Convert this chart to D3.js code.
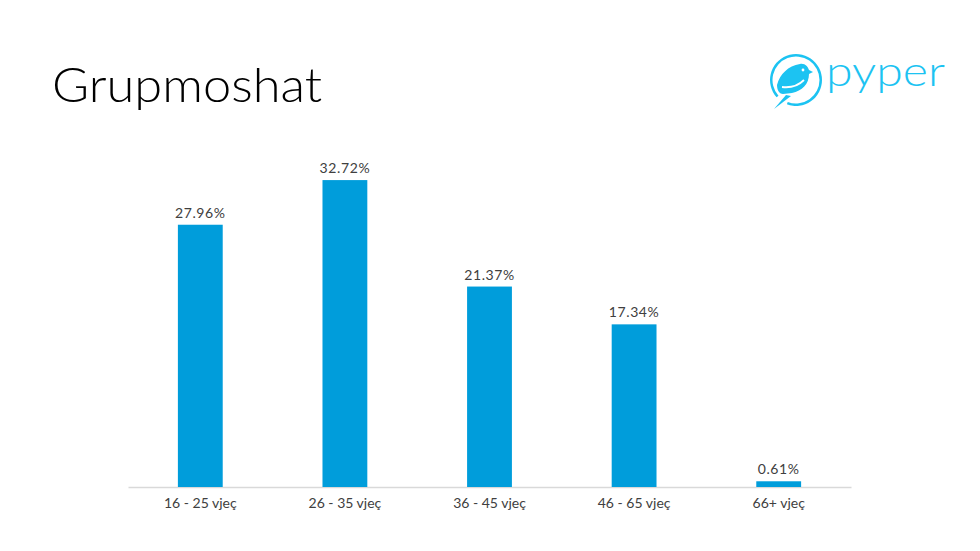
<!DOCTYPE html>
<html>
<head>
<meta charset="utf-8">
<script src="https://cdn.jsdelivr.net/npm/d3@7"></script>
<style>
  body { margin: 0; background: #fff; }
  svg { display: block; font-family: "Lato", "DejaVu Sans", sans-serif; }
</style>
</head>
<body>
<div id="chartArea"></div>
<script>
// data
var categories = ["16 - 25 vjeç", "26 - 35 vjeç", "36 - 45 vjeç", "46 - 65 vjeç", "66+ vjeç"];
var shares = [27.96, 32.72, 21.37, 17.34, 0.61];
var valueLabels = ["27.96%", "32.72%", "21.37%", "17.34%", "0.61%"];
var title = "Grupmoshat";

var width = 980, height = 551;
var margin = { top: 158.7, right: 129, bottom: 64, left: 128 };

var svg = d3.select("#chartArea").append("svg")
    .attr("width", width)
    .attr("height", height);

// title
svg.append("text")
    .attr("x", 52)
    .attr("y", 102)
    .attr("font-size", 47)
    .attr("font-weight", 300)
    .attr("fill", "#000")
    .attr("textLength", 270)
    .attr("lengthAdjust", "spacingAndGlyphs")
    .text(title);

// logo
var blue = "#1cc3f2";
var logo = svg.append("g").attr("transform", "translate(796,80)");
logo.append("path")
    .attr("d", d3.arc().innerRadius(23.5).outerRadius(26)({ startAngle: -2.3, endAngle: 3.5 }))
    .attr("fill", blue);
// bird
logo.append("path")
    .attr("d", "M-19,5 C-16,-6 -8,-14 4,-16 C9,-17 12,-13 13,-10 L17,-8 L13,-6 C13,4 6,11 -4,13 L-13,14 C-16,14 -19,11 -19,5 Z")
    .attr("fill", blue);
logo.append("path")
    .attr("d", "M-14,7 C-6,8 2,6 8,0")
    .attr("fill", "none")
    .attr("stroke", "#fff")
    .attr("stroke-width", 1.8);
logo.append("path")
    .attr("d", "M-10,15 L-5,16 L-22,29 Z")
    .attr("fill", blue);
logo.append("circle").attr("cx", 7).attr("cy", -10).attr("r", 1.4).attr("fill", "#fff");
svg.append("text")
    .attr("x", 826)
    .attr("y", 86)
    .attr("font-size", 41)
    .attr("font-weight", 300)
    .attr("fill", blue)
    .attr("textLength", 119)
    .attr("lengthAdjust", "spacingAndGlyphs")
    .text("pyper");

// scales
var x = d3.scaleBand()
    .domain(categories)
    .range([margin.left, width - margin.right])
    .padding(0);

var y = d3.scaleLinear()
    .domain([0, 35])
    .range([height - margin.bottom, margin.top]);

var barWidth = x.bandwidth() * 0.31;

// axis
var xAxis = d3.axisBottom(x).tickSize(0).tickPadding(11);
var axisG = svg.append("g")
    .attr("class", "axis axis--x")
    .attr("transform", "translate(0," + (height - margin.bottom) + ")")
    .call(xAxis);
axisG.select(".domain").attr("stroke", "#d9d9d9").attr("stroke-width", 1.3);
axisG.selectAll("text")
    .attr("font-size", 14)
    .attr("fill", "#404040")
    .attr("font-family", "Lato, sans-serif");

// bars
svg.selectAll(".bar")
    .data(shares)
    .enter().append("rect")
    .attr("class", "bar")
    .attr("x", function(d, i) { return x(categories[i]) + x.bandwidth() / 2 - barWidth / 2; })
    .attr("y", function(d) { return y(d); })
    .attr("width", barWidth)
    .attr("height", function(d) { return y(0) - y(d); })
    .attr("fill", "#009ddb");

// value labels
svg.selectAll(".label")
    .data(shares)
    .enter().append("text")
    .attr("class", "label")
    .attr("x", function(d, i) { return x(categories[i]) + x.bandwidth() / 2; })
    .attr("y", function(d) { return y(d) - 7; })
    .attr("text-anchor", "middle")
    .attr("font-size", 14)
    .attr("letter-spacing", 0.6)
    .attr("fill", "#404040")
    .text(function(d, i) { return valueLabels[i]; });
</script>
</body>
</html>
